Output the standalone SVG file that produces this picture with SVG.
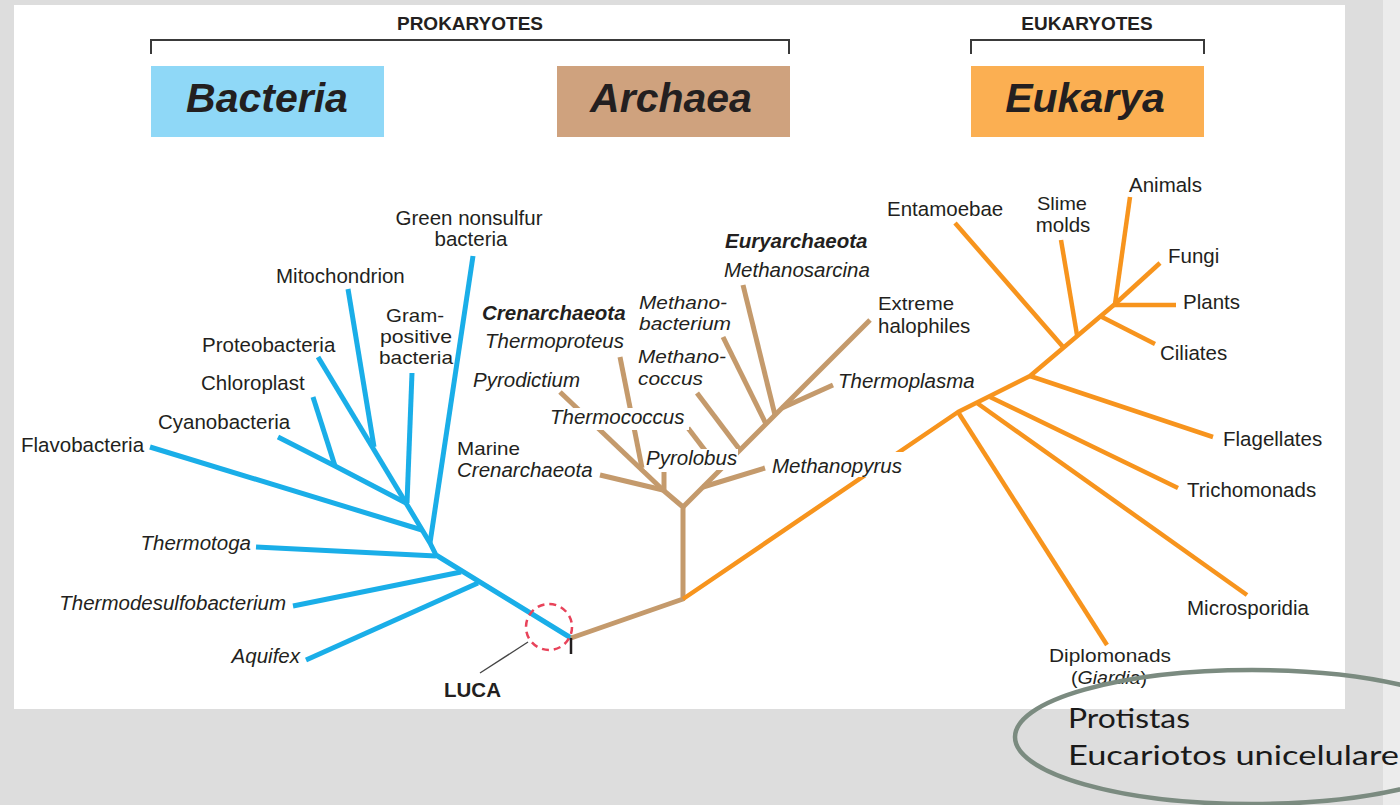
<svg xmlns="http://www.w3.org/2000/svg" width="1400" height="805" viewBox="0 0 1400 805">
<defs>
<style>
.lbl{font-family:"Liberation Sans",Arial,sans-serif;font-size:20.5px;fill:#231f20}
.sm{font-size:19px}
.it{font-style:italic}
.bd{font-weight:bold}
.hdr{font-family:"Liberation Sans",Arial,sans-serif;font-size:19px;font-weight:bold;fill:#231f20;text-anchor:middle}
.dom{font-family:"Liberation Sans",Arial,sans-serif;font-size:41px;font-weight:bold;font-style:italic;fill:#231f20;text-anchor:middle}
.br{fill:none;stroke:#3a3a3a;stroke-width:2}
.bl{fill:none;stroke:#1aaee8;stroke-width:5;stroke-linejoin:round}
.bn{fill:none;stroke:#c49a6c;stroke-width:5;stroke-linejoin:round}
.or{fill:none;stroke:#f7941d;stroke-width:4.5;stroke-linejoin:round}
.bg{fill:#ffffff}
.note{font-family:Lato,"Noto Sans",sans-serif;font-size:27px;fill:#1a1a1a}
</style>
</defs>
<rect x="0" y="0" width="1400" height="805" fill="#dddddd"/>
<rect x="1383" y="0" width="17" height="805" fill="#ececec"/>
<rect x="14" y="5" width="1331" height="704" fill="#ffffff"/>

<g id="header-prokaryotes">
<text class="hdr" x="470" y="30">PROKARYOTES</text>
<path class="br" d="M151,54 V40 H789 V54"/>
</g>
<g id="header-eukaryotes">
<text class="hdr" x="1087" y="30">EUKARYOTES</text>
<path class="br" d="M971,54 V40 H1204 V54"/>
</g>
<g id="box-bacteria">
<rect x="151" y="66" width="233" height="71" fill="#8fd8f7"/>
<text class="dom" x="267" y="112">Bacteria</text>
</g>
<g id="box-archaea">
<rect x="557" y="66" width="233" height="71" fill="#cfa27e"/>
<text class="dom" x="671" y="112">Archaea</text>
</g>
<g id="box-eukarya">
<rect x="971" y="66" width="233" height="71" fill="#fbaf52"/>
<text class="dom" x="1085" y="112">Eukarya</text>
</g>

<g id="connectors">
<!-- Bacteria -->
<polyline class="bl" points="571,638 436,555 430,543 406,503"/>
<line class="bl" x1="473" y1="256" x2="430" y2="543"/>
<line class="bl" x1="256" y1="547" x2="436" y2="556"/>
<line class="bl" x1="293" y1="606" x2="461" y2="572"/>
<line class="bl" x1="306" y1="660" x2="478" y2="583"/>
<line class="bl" x1="150" y1="447" x2="422" y2="530"/>
<polyline class="bl" points="278,437 335,466 406,503"/>
<line class="bl" x1="313" y1="397" x2="335" y2="466"/>
<line class="bl" x1="318" y1="357" x2="406" y2="503"/>
<line class="bl" x1="348" y1="289" x2="374" y2="447"/>
<line class="bl" x1="412" y1="373" x2="407" y2="503"/>
<!-- Archaea -->
<polyline class="bn" points="571,638 683,599 683,507 663,490"/>
<line class="bn" x1="600" y1="475" x2="663" y2="490"/>
<line class="bn" x1="664" y1="472" x2="664" y2="490"/>
<line class="bn" x1="560" y1="392" x2="663" y2="490"/>
<line class="bn" x1="620" y1="357" x2="642" y2="468"/>
<line class="bn" x1="683" y1="507" x2="870" y2="320"/>
<line class="bn" x1="703" y1="487" x2="765" y2="468"/>
<line class="bn" x1="688" y1="428" x2="720" y2="470"/>
<line class="bn" x1="697" y1="393" x2="740" y2="450"/>
<line class="bn" x1="723" y1="337" x2="766" y2="424"/>
<line class="bn" x1="743" y1="285" x2="775" y2="415"/>
<line class="bn" x1="833" y1="385" x2="782" y2="408"/>
<!-- Eukarya -->
<polyline class="or" points="683,599 958,412 1030,376 1115,304"/>
<line class="or" x1="958" y1="412" x2="1107" y2="645"/>
<line class="or" x1="977" y1="403" x2="1247" y2="595"/>
<line class="or" x1="990" y1="397" x2="1178" y2="488"/>
<line class="or" x1="1030" y1="376" x2="1213" y2="437"/>
<line class="or" x1="955" y1="223" x2="1064" y2="348"/>
<line class="or" x1="1061" y1="240" x2="1077" y2="335"/>
<line class="or" x1="1155" y1="344" x2="1100" y2="316"/>
<line class="or" x1="1113" y1="305" x2="1176" y2="305"/>
<line class="or" x1="1160" y1="263" x2="1115" y2="304"/>
<line class="or" x1="1130" y1="197" x2="1115" y2="304"/>
<!-- LUCA marker -->
<line x1="571" y1="638" x2="571" y2="654" stroke="#231f20" stroke-width="2.5"/>
<line x1="528" y1="642" x2="480" y2="673" stroke="#444444" stroke-width="1.3"/>
<circle cx="549" cy="627" r="23" fill="none" stroke="#e8435a" stroke-width="2.5" stroke-dasharray="7 5"/>
</g>

<g id="luca"><text class="lbl bd" x="444" y="697">LUCA</text></g>

<g id="bacteria-labels">
<g id="green-nonsulfur"><text class="lbl" x="469" y="225" text-anchor="middle">Green nonsulfur</text><text class="lbl" x="471" y="246" text-anchor="middle">bacteria</text></g>
<g id="mitochondrion"><text class="lbl" x="276" y="283">Mitochondrion</text></g>
<g id="gram-positive"><text class="lbl sm" x="415" y="322" text-anchor="middle" textLength="58" lengthAdjust="spacingAndGlyphs">Gram-</text><text class="lbl sm" x="416" y="343" text-anchor="middle" textLength="72" lengthAdjust="spacingAndGlyphs">positive</text><text class="lbl sm" x="416" y="364" text-anchor="middle" textLength="74" lengthAdjust="spacingAndGlyphs">bacteria</text></g>
<g id="proteobacteria"><text class="lbl" x="202" y="352">Proteobacteria</text></g>
<g id="chloroplast"><text class="lbl" x="201" y="390">Chloroplast</text></g>
<g id="cyanobacteria"><text class="lbl" x="158" y="429">Cyanobacteria</text></g>
<g id="flavobacteria"><text class="lbl" x="21" y="452">Flavobacteria</text></g>
<g id="thermotoga"><text class="lbl it" x="251" y="550" text-anchor="end">Thermotoga</text></g>
<g id="thermodesulfobacterium"><text class="lbl it" x="286" y="610" text-anchor="end">Thermodesulfobacterium</text></g>
<g id="aquifex"><text class="lbl it" x="300" y="663" text-anchor="end">Aquifex</text></g>
</g>

<g id="archaea-labels">
<g id="euryarchaeota"><text class="lbl it bd" x="725" y="248">Euryarchaeota</text><text class="lbl it" x="724" y="277">Methanosarcina</text></g>
<g id="crenarchaeota"><text class="lbl it bd" x="482" y="320">Crenarchaeota</text><text class="lbl it" x="485" y="348">Thermoproteus</text></g>
<g id="methanobacterium"><text class="lbl it sm" x="639" y="309" textLength="88" lengthAdjust="spacingAndGlyphs">Methano-</text><text class="lbl it sm" x="639" y="330" textLength="92" lengthAdjust="spacingAndGlyphs">bacterium</text></g>
<g id="methanococcus"><text class="lbl it sm" x="638" y="363" textLength="88" lengthAdjust="spacingAndGlyphs">Methano-</text><text class="lbl it sm" x="638" y="385" textLength="65" lengthAdjust="spacingAndGlyphs">coccus</text></g>
<g id="pyrodictium"><text class="lbl it" x="473" y="387">Pyrodictium</text></g>
<g id="thermococcus"><rect class="bg" x="549" y="408" width="140" height="22"/><text class="lbl it" x="550" y="424">Thermococcus</text></g>
<g id="marine-crenarchaeota"><text class="lbl sm" x="457" y="455" textLength="63" lengthAdjust="spacingAndGlyphs">Marine</text><text class="lbl it" x="457" y="477">Crenarchaeota</text></g>
<g id="pyrolobus"><rect class="bg" x="645" y="449" width="93" height="21"/><text class="lbl it" x="646" y="465">Pyrolobus</text></g>
<g id="methanopyrus"><rect class="bg" x="768" y="452" width="137" height="25"/><text class="lbl it" x="772" y="473">Methanopyrus</text></g>
<g id="extreme-halophiles"><text class="lbl sm" x="878" y="310" textLength="76" lengthAdjust="spacingAndGlyphs">Extreme</text><text class="lbl" x="878" y="333">halophiles</text></g>
<g id="thermoplasma"><text class="lbl it" x="838" y="388">Thermoplasma</text></g>
</g>

<g id="eukarya-labels">
<g id="entamoebae"><text class="lbl" x="887" y="216">Entamoebae</text></g>
<g id="slime-molds"><text class="lbl sm" x="1062" y="210" text-anchor="middle" textLength="50" lengthAdjust="spacingAndGlyphs">Slime</text><text class="lbl" x="1063" y="232" text-anchor="middle">molds</text></g>
<g id="animals"><text class="lbl" x="1129" y="192">Animals</text></g>
<g id="fungi"><text class="lbl" x="1168" y="263">Fungi</text></g>
<g id="plants"><text class="lbl" x="1183" y="309">Plants</text></g>
<g id="ciliates"><text class="lbl" x="1160" y="360">Ciliates</text></g>
<g id="flagellates"><text class="lbl" x="1223" y="446">Flagellates</text></g>
<g id="trichomonads"><text class="lbl" x="1187" y="497">Trichomonads</text></g>
<g id="microsporidia"><text class="lbl" x="1187" y="615">Microsporidia</text></g>
<g id="diplomonads"><text class="lbl sm" x="1110" y="662" text-anchor="middle" textLength="122" lengthAdjust="spacingAndGlyphs">Diplomonads</text><text class="lbl sm" x="1109" y="684" text-anchor="middle" textLength="76" lengthAdjust="spacingAndGlyphs">(<tspan class="it">Giardia</tspan>)</text></g>
</g>

<g id="protistas-note">
<ellipse cx="1252" cy="737" rx="237" ry="67" fill="none" stroke="#7b8b80" stroke-width="4.5"/>
<text class="note" x="1068" y="728" textLength="122" lengthAdjust="spacingAndGlyphs">Protistas</text>
<text class="note" x="1068" y="765" textLength="331" lengthAdjust="spacingAndGlyphs">Eucariotos unicelulare</text>
</g>
</svg>
